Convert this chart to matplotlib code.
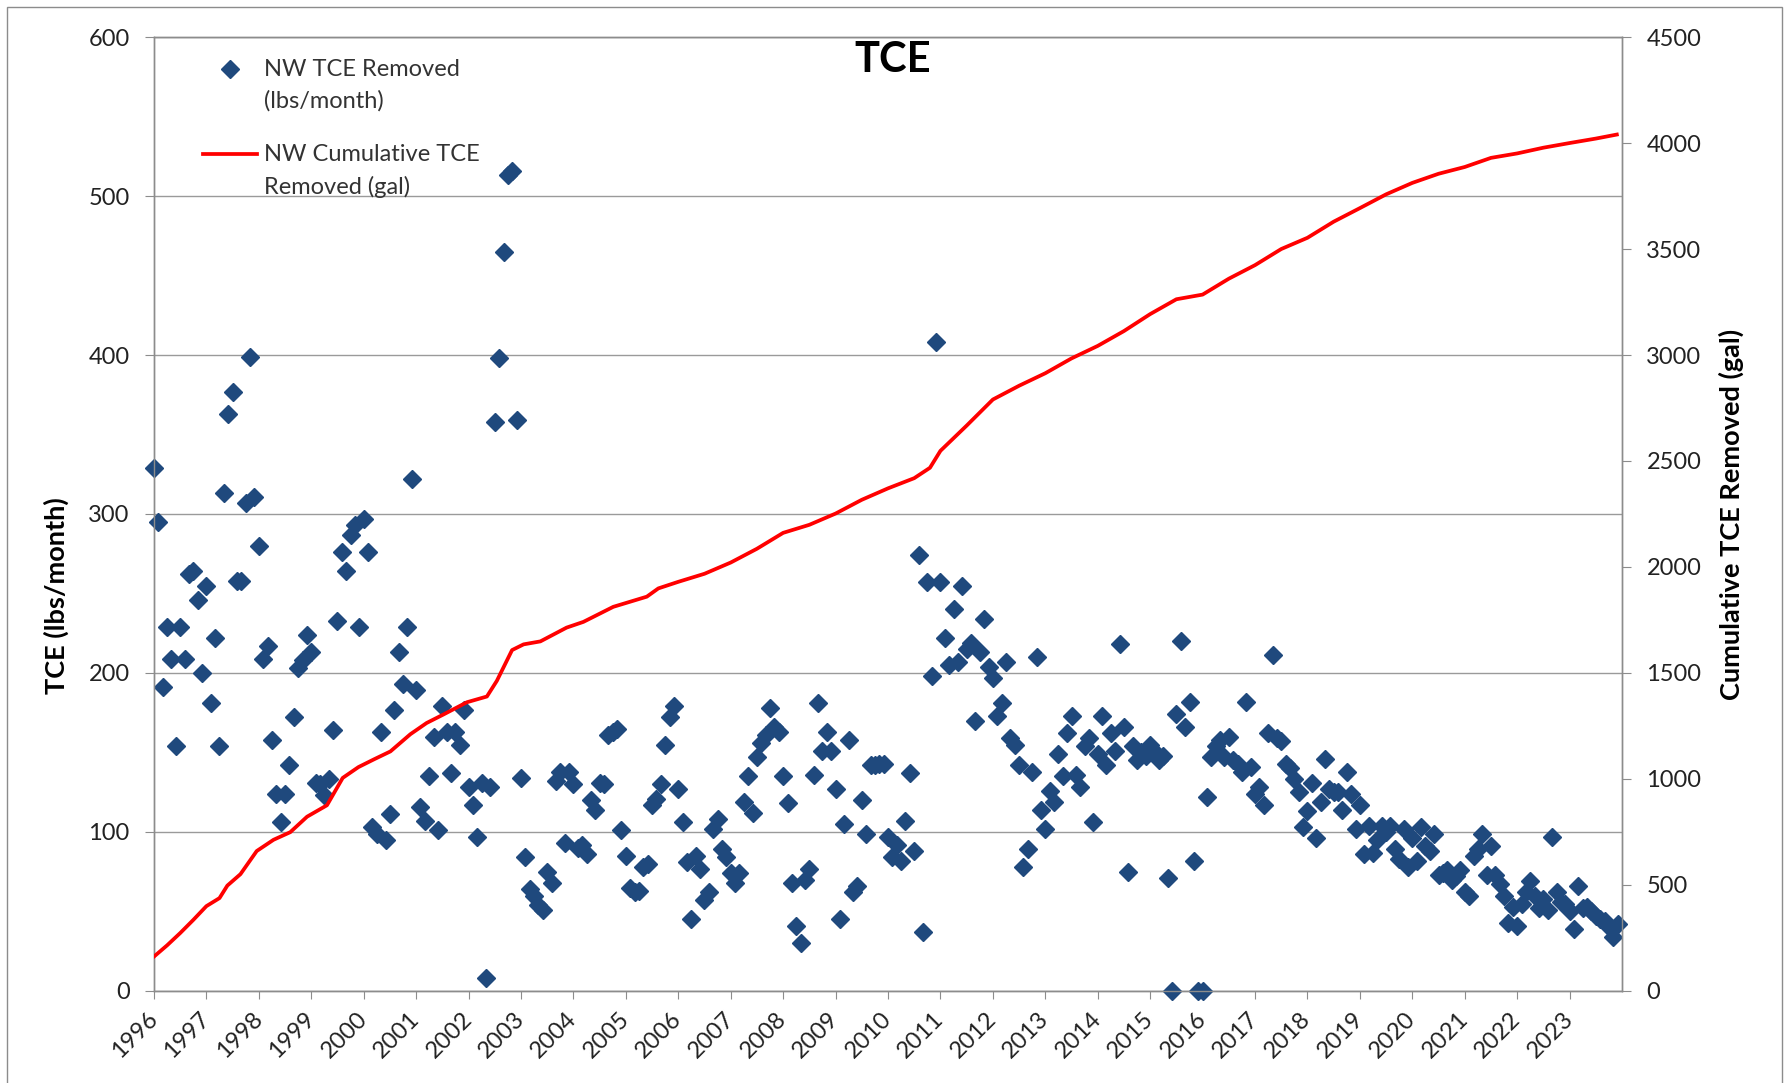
import numpy as np
import matplotlib
matplotlib.use("Agg")
import matplotlib.pyplot as plt
from matplotlib.patches import Rectangle
from matplotlib.lines import Line2D
from matplotlib.legend_handler import HandlerLine2D

plt.rcParams['font.family'] = ['Lato', 'DejaVu Sans']

# monthly TCE removed (lbs/month), Jan 1996 .. Dec 2023, one row per year
tce_lbs = [
    329, 295, 191, 229, 209, 154, 229, 209, 262, 264, 246, 200,  # 1996
    255, 181, 222, 154, 313, 363, 377, 258, 258, 307, 399, 311,  # 1997
    280, 209, 217, 158, 124, 106, 124, 142, 172, 203, 208, 224,  # 1998
    213, 131, 130, 123, 133, 164, 233, 276, 264, 287, 293, 229,  # 1999
    297, 276, 103, 99, 163, 95, 111, 177, 213, 193, 229, 322,    # 2000
    189, 116, 107, 135, 160, 101, 179, 163, 137, 163, 155, 177,  # 2001
    128, 117, 97, 131, 8, 128, 358, 398, 465, 513, 516, 359,     # 2002
    134, 84, 64, 60, 54, 51, 75, 68, 132, 138, 93, 138,          # 2003
    130, 90, 92, 86, 120, 114, 131, 130, 161, 163, 165, 101,     # 2004
    85, 65, 62, 63, 78, 80, 117, 121, 130, 155, 172, 179,        # 2005
    127, 106, 81, 45, 85, 77, 57, 62, 102, 108, 89, 84,          # 2006
    74, 68, 74, 119, 135, 112, 147, 156, 161, 178, 166, 163,     # 2007
    135, 118, 68, 41, 30, 70, 77, 136, 181, 151, 163, 151,       # 2008
    127, 45, 105, 158, 62, 66, 120, 99, 142, 142, 143, 143,      # 2009
    97, 84, 92, 82, 107, 137, 88, 274, 37, 257, 198, 408,        # 2010
    257, 222, 205, 240, 207, 255, 215, 219, 170, 213, 234, 204,  # 2011
    197, 173, 181, 207, 159, 155, 142, 78, 89, 138, 210, 114,    # 2012
    102, 126, 119, 149, 135, 162, 173, 136, 128, 154, 159, 106,  # 2013
    149, 173, 142, 162, 151, 218, 166, 75, 154, 145, 150, 148,   # 2014
    155, 150, 145, 148, 71, 0, 174, 220, 166, 182, 82, 0,        # 2015
    0, 122, 147, 154, 158, 147, 160, 145, 143, 138, 182, 141,    # 2016
    124, 128, 117, 162, 211, 159, 157, 143, 140, 133, 125, 103,  # 2017
    113, 131, 96, 119, 146, 127, 125, 125, 114, 138, 124, 102,   # 2018
    117, 86, 104, 87, 95, 104, 100, 104, 89, 83, 102, 78,        # 2019
    96, 82, 103, 91, 88, 99, 73, 74, 76, 70, 72, 76,             # 2020
    62, 60, 85, 89, 99, 73, 91, 73, 67, 60, 43, 53,              # 2021
    41, 55, 62, 69, 60, 52, 58, 51, 97, 62, 56, 55,              # 2022
    50, 39, 66, 52, 53, 50, 47, 45, 44, 40, 34, 42,              # 2023
]
start_year = 1996

# cumulative removed (gal)
cum_years = [1996.0, 1996.25, 1996.5, 1996.75, 1997.0, 1997.25, 1997.4, 1997.65,
             1997.96, 1998.28, 1998.6, 1998.92, 1999.3, 1999.6, 1999.9, 2000.2,
             2000.51, 2000.89, 2001.2, 2001.52, 2001.97, 2002.35, 2002.54, 2002.83,
             2003.05, 2003.37, 2003.87, 2004.19, 2004.76, 2005.4, 2005.62, 2006.0,
             2006.5, 2007.0, 2007.5, 2008.0, 2008.5, 2009.0, 2009.5, 2010.0,
             2010.5, 2010.8, 2011.0, 2011.5, 2012.0, 2012.5, 2013.0, 2013.5,
             2014.0, 2014.5, 2015.0, 2015.5, 2016.0, 2016.5, 2017.0, 2017.5,
             2018.0, 2018.5, 2019.0, 2019.5, 2020.0, 2020.5, 2021.0, 2021.5,
             2022.0, 2022.5, 2023.0, 2023.5, 2023.9]
cum_gal = [162, 215, 273, 335, 400, 438, 497, 551,
           660, 713, 749, 822, 876, 1005, 1056, 1093,
           1130, 1211, 1264, 1304, 1362, 1389, 1463, 1608,
           1635, 1649, 1714, 1741, 1812, 1860, 1899, 1930,
           1968, 2021, 2086, 2161, 2199, 2252, 2317, 2371,
           2419, 2468, 2548, 2667, 2790, 2855, 2914, 2984,
           3043, 3113, 3193, 3263, 3285, 3360, 3424, 3500,
           3553, 3629, 3693, 3758, 3812, 3855, 3887, 3930,
           3951, 3978, 4000, 4021, 4040]

year_labels = [str(y) for y in range(1996, 2024)]

months = start_year + np.arange(len(tce_lbs)) / 12.0

GRAY = '#8c8c8c'
TXT = '#222222'


class FirstLineHandler(HandlerLine2D):
    # Excel puts the legend key level with the first line of a wrapped label
    def create_artists(self, legend, orig_handle, xdescent, ydescent, width,
                       height, fontsize, trans):
        arts = super().create_artists(legend, orig_handle, xdescent, ydescent,
                                      width, height, fontsize, trans)
        for a in arts:
            a.set_ydata(np.asarray(a.get_ydata()) + 12.0)
        return arts


fig = plt.figure(figsize=(17.88, 10.83), dpi=100)
ax = fig.add_axes([0.0861, 0.0850, 0.8211, 0.8808])
ax2 = ax.twinx()

ax.plot(months, tce_lbs, ls='none', marker='D', ms=9, color='#1F497D',
        mec='#1F497D', clip_on=False, zorder=3, label='NW TCE Removed\n(lbs/month)')
ax2.plot(cum_years, cum_gal, color='#ff0000', lw=2.7, zorder=4,
         label='NW Cumulative TCE\nRemoved (gal)')

ax.set_xlim(1996, 2024)
ax.set_ylim(0, 600)
ax2.set_ylim(0, 4500)
ax.set_yticks(np.arange(0, 601, 100))
ax2.set_yticks(np.arange(0, 4501, 500))
ax.set_xticks(np.arange(1996, 2024))
ax.set_xticklabels(year_labels, rotation=45, ha='right', va='center',
                   rotation_mode='anchor')

ax.grid(axis='y', color='#9a9a9a', lw=1.0, zorder=0)
ax.set_axisbelow(True)

for a in (ax, ax2):
    for sp in a.spines.values():
        sp.set_color(GRAY)
        sp.set_linewidth(1.0)
ax.tick_params(axis='y', direction='out', length=6.5, color=GRAY, labelsize=17,
               labelcolor=TXT, pad=11)
ax.tick_params(axis='x', direction='out', length=6, color=GRAY, labelsize=17,
               labelcolor=TXT, pad=12)
ax2.tick_params(axis='y', direction='out', length=6.5, color=GRAY, labelsize=17,
                labelcolor=TXT, pad=11)

ax.set_ylabel('TCE (lbs/month)', fontsize=19.5, fontweight='bold', color='black')
ax.yaxis.set_label_coords(-0.058, 0.414)
ax2.set_ylabel('Cumulative TCE Removed (gal)', fontsize=19.5, fontweight='bold',
               color='black', rotation=90)
ax2.yaxis.set_label_coords(1.066, 0.5)

ax.text(0.5034, 0.976, 'TCE', transform=ax.transAxes, ha='center', va='center',
        fontsize=30, fontweight='bold', color='black')

h1, l1 = ax.get_legend_handles_labels()
h2, l2 = ax2.get_legend_handles_labels()
leg = ax2.legend(h1 + h2, l1 + l2, loc='upper left', bbox_to_anchor=(0.0334, 0.977),
                 frameon=False, fontsize=17, handlelength=2.3, handletextpad=0.3,
                 labelspacing=1.35, borderpad=0, borderaxespad=0,
                 handler_map={Line2D: FirstLineHandler()})
for t in leg.get_texts():
    t.set_color('#333333')
    t.set_linespacing(1.6)

fig.patches.append(Rectangle((7 / 1788, -0.01), (1782 - 7) / 1788, 1 - 7 / 1083 + 0.01,
                             transform=fig.transFigure, fill=False, ec=GRAY, lw=1.0))

fig.savefig('out.png', dpi=100, facecolor='white')
